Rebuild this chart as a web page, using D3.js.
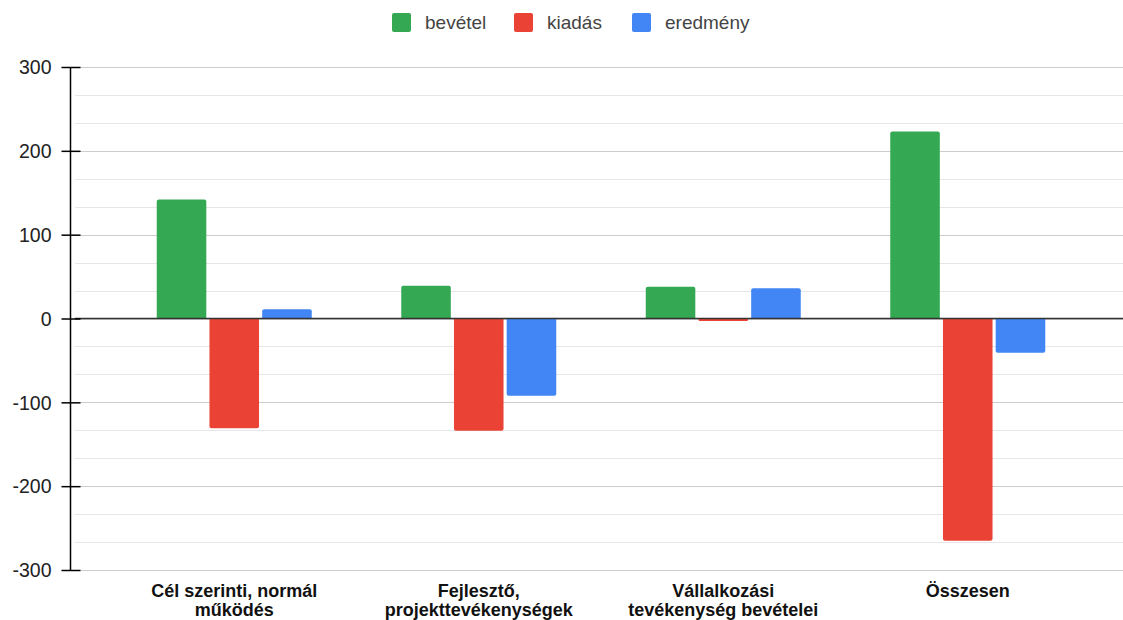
<!DOCTYPE html>
<html><head><meta charset="utf-8">
<script src="https://cdn.jsdelivr.net/npm/d3@7"></script>
<style>body{margin:0;background:#fff}svg{display:block}</style>
</head><body>
<svg id="c" width="1123" height="620"></svg>
<script>
const categories = [["Cél szerinti, normál","működés"],["Fejlesztő,","projekttevékenységek"],["Vállalkozási","tevékenység bevételei"],["Összesen"]];
const seriesNames = ["bevétel","kiadás","eredmény"];
const seriesColors = ["#34a853","#ea4335","#4285f4"];
const bevetel = [142, 39, 38, 223];
const kiadas = [-131, -134, -3, -265];
const eredmeny = [11, -92, 36, -41];
const yTicks = [-300,-200,-100,0,100,200,300];

const values = [bevetel, kiadas, eredmeny];
const svg = d3.select("#c");
const font = "Arial, 'Liberation Sans', sans-serif";
const y = d3.scaleLinear().domain([-300,300]).range([570,67]);
const catIdx = categories.map((d,i)=>i);
const x0 = d3.scaleBand().domain(catIdx).range([112,1090]);
const bw = x0.bandwidth();
const x1 = d3.scaleBand().domain(seriesNames).range([bw/2-77.5, bw/2+77.5]).paddingInner(0.06);

// grid
const minor = d3.range(-300, 300.01, 100/3).map(v=>Math.round(v*1000)/1000);
svg.append("g").selectAll("line").data(minor).join("line")
  .attr("x1",75).attr("x2",1123)
  .attr("y1",d=>Math.round(y(d))+0.5).attr("y2",d=>Math.round(y(d))+0.5)
  .attr("stroke",d=>(Math.abs(d%100)<0.01)?"#cccccc":"#e6e6e6").attr("stroke-width",1);

// bars
const g = svg.append("g");
seriesNames.forEach((s,si)=>{
  g.selectAll(null).data(values[si]).join("path")
    .attr("fill",seriesColors[si])
    .attr("d",(v,i)=>{
      const xl = x0(i)+x1(s), w = x1.bandwidth();
      const y0 = y(0), yv = y(v);
      const top = Math.min(y0,yv), h = Math.abs(y0-yv);
      const r = Math.min(2, h/2);
      if (v>=0){
        return `M${xl},${y0}V${top+r}Q${xl},${top} ${xl+r},${top}H${xl+w-r}Q${xl+w},${top} ${xl+w},${top+r}V${y0}Z`;
      } else {
        const b = top+h;
        return `M${xl},${y0}V${b-r}Q${xl},${b} ${xl+r},${b}H${xl+w-r}Q${xl+w},${b} ${xl+w},${b-r}V${y0}Z`;
      }
    });
});

// zero line
svg.append("line").attr("x1",75).attr("x2",1123).attr("y1",y(0)).attr("y2",y(0)).attr("stroke","#333").attr("stroke-width",1.3);

// y axis
const ax = svg.append("g").attr("transform","translate(70.5,0)")
  .call(d3.axisLeft(y).tickValues(yTicks).tickSize(0).tickPadding(19).tickFormat(d=>String(d)));
ax.select(".domain").attr("stroke","#000").attr("stroke-width",1.5).attr("d",`M0,${y(300)}V${y(-300)}`);
ax.selectAll(".tick").append("line").attr("x1",-9).attr("x2",10).attr("stroke","#000").attr("stroke-width",1.5);
ax.selectAll(".tick text").attr("font-family",font).attr("font-size",19.5).attr("fill","#222").attr("dy","0.35em");

// x labels
const xl = svg.append("g");
categories.forEach((lines,i)=>{
  lines.forEach((ln,k)=>{
    xl.append("text").attr("text-anchor","middle").attr("font-family",font)
      .attr("font-weight","bold").attr("font-size",18).attr("fill","#111")
      .attr("x",x0(i)+bw/2).attr("y",597+k*19).text(ln);
  });
});

// legend
const legX = [392, 514, 632];
const lg = svg.append("g");
seriesNames.forEach((s,i)=>{
  lg.append("rect").attr("x",legX[i]).attr("y",13).attr("width",19).attr("height",19).attr("rx",2).attr("fill",seriesColors[i]);
  lg.append("text").attr("x",legX[i]+33).attr("y",29).attr("font-family",font)
    .attr("font-size",19).attr("fill","#444").text(s);
});
</script>
</body></html>
